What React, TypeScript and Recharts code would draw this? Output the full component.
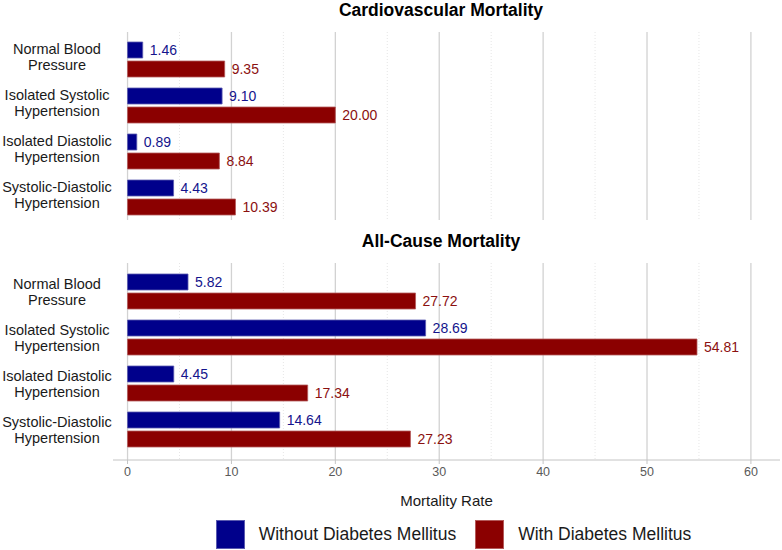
import {
  BarChart,
  Bar,
  XAxis,
  YAxis,
  CartesianGrid,
  LabelList,
  Legend,
} from 'recharts'

const CATEGORIES = [
  'Normal Blood\nPressure',
  'Isolated Systolic\nHypertension',
  'Isolated Diastolic\nHypertension',
  'Systolic-Diastolic\nHypertension',
]

const CV_WITHOUT = [1.46, 9.1, 0.89, 4.43]
const CV_WITH = [9.35, 20.0, 8.84, 10.39]

const ALL_WITHOUT = [5.82, 28.69, 4.45, 14.64]
const ALL_WITH = [27.72, 54.81, 17.34, 27.23]

const MAJOR_TICKS = [0, 10, 20, 30, 40, 50, 60]
const MINOR_TICKS = [5, 15, 25, 35, 45, 55]
const X_DOMAIN: [number, number] = [-1.4, 62.8]

const SERIES = [
  { key: 'without', name: 'Without Diabetes Mellitus', color: '#00008B', edge: '#5a5ab0', text: '#14148c' },
  { key: 'with', name: 'With Diabetes Mellitus', color: '#8B0000', edge: '#b45a5a', text: '#8b1010' },
]

const FONT = '"Liberation Sans", Arial, Helvetica, sans-serif'

function buildRows(without: number[], withDm: number[]) {
  return CATEGORIES.map((name, i) => ({ name, without: without[i], with: withDm[i] }))
}

const cvData = buildRows(CV_WITHOUT, CV_WITH)
const allData = buildRows(ALL_WITHOUT, ALL_WITH)

function CategoryTick(props: any) {
  const { x, y, payload, shift } = props
  const lines = String(payload.value).split('\n')
  const cx = x - 56
  return (
    <text x={cx} y={y + shift} textAnchor="middle" fontSize={14.5} fill="#1a1a1a">
      {lines.map((line, i) => (
        <tspan key={i} x={cx} dy={i === 0 ? 0 : 16.5}>
          {line}
        </tspan>
      ))}
    </text>
  )
}

// legend keeps the series order (vertical layout reverses the payload)
function LegendContent() {
  return (
    <div
      style={{
        display: 'flex',
        justifyContent: 'center',
        alignItems: 'center',
        height: 32,
        fontSize: 17.5,
        color: '#1a1a1a',
      }}
    >
      {SERIES.map((s, i) => (
        <div key={s.key} style={{ display: 'flex', alignItems: 'center', marginLeft: i ? 19 : 0 }}>
          <span
            style={{
              display: 'inline-block',
              width: 29,
              height: 29,
              boxSizing: 'border-box',
              background: s.color,
              border: `1px solid ${s.edge}`,
              marginRight: 14,
            }}
          />
          <span>{s.name}</span>
        </div>
      ))}
    </div>
  )
}

function Grids() {
  return [
    <CartesianGrid
      key="minor"
      horizontal={false}
      verticalValues={MINOR_TICKS}
      stroke="#e6e6e6"
      strokeDasharray="1 2"
    />,
    <CartesianGrid
      key="major"
      horizontal={false}
      verticalValues={MAJOR_TICKS}
      stroke="#d2d2d2"
      strokeWidth={1.3}
    />,
  ]
}

function SeriesBars() {
  return SERIES.map((s) => (
    <Bar
      key={s.key}
      dataKey={s.key}
      name={s.name}
      fill={s.color}
      stroke={s.edge}
      strokeWidth={0.8}
      isAnimationActive={false}
    >
      <LabelList
        dataKey={s.key}
        position="right"
        offset={7}
        fill={s.text}
        fontSize={14}
        formatter={(v: any) => Number(v).toFixed(2)}
      />
    </Bar>
  ))
}

const titleStyle: React.CSSProperties = {
  position: 'absolute',
  left: 113,
  width: 656,
  textAlign: 'center',
  fontWeight: 700,
  fontSize: 17.5,
  lineHeight: 'normal',
  color: '#000',
}

export default function App() {
  return (
    <div
      style={{
        position: 'absolute',
        left: 0,
        top: 0,
        width: 782,
        height: 550,
        background: '#fff',
        fontFamily: FONT,
      }}
    >
      <div style={{ position: 'absolute', left: 0, top: 0 }}>
        <BarChart
          width={782}
          height={222}
          data={cvData}
          layout="vertical"
          margin={{ top: 32, right: 2, bottom: 2, left: 0 }}
          barSize={16}
          barGap={3}
        >
          {Grids()}
          <XAxis type="number" hide domain={X_DOMAIN} ticks={MAJOR_TICKS} allowDataOverflow />
          <YAxis
            type="category"
            dataKey="name"
            width={113}
            axisLine={false}
            tickLine={false}
            tickSize={0}
            tickMargin={0}
            interval={0}
            padding={{ top: 4, bottom: 0 }}
            tick={(p: any) => <CategoryTick {...p} shift={-5.5} />}
          />
          {SeriesBars()}
        </BarChart>
      </div>
      <div style={{ ...titleStyle, top: 0 }}>Cardiovascular Mortality</div>

      <div style={{ position: 'absolute', left: 0, top: 230 }}>
        <BarChart
          width={782}
          height={320}
          data={allData}
          layout="vertical"
          margin={{ top: 33, right: 2, bottom: 0, left: 0 }}
          barSize={16}
          barGap={3}
        >
          {Grids()}
          <XAxis
            type="number"
            domain={X_DOMAIN}
            ticks={MAJOR_TICKS}
            allowDataOverflow
            height={58}
            axisLine={{ stroke: '#c4c4c4' }}
            tickLine={{ stroke: '#c4c4c4' }}
            tickSize={4}
            tickMargin={3}
            tick={{ fontSize: 12.5, fill: '#5a5a5a' }}
            label={{
              value: 'Mortality Rate',
              position: 'insideBottom',
              offset: 12,
              fontSize: 15,
              fill: '#1a1a1a',
            }}
          />
          <YAxis
            type="category"
            dataKey="name"
            width={113}
            axisLine={false}
            tickLine={false}
            tickSize={0}
            tickMargin={0}
            interval={0}
            padding={{ top: 5, bottom: 8 }}
            tick={(p: any) => <CategoryTick {...p} shift={-2.5} />}
          />
          {SeriesBars()}
          <Legend
            verticalAlign="bottom"
            height={32}
            wrapperStyle={{ left: 113, width: 681 }}
            content={<LegendContent />}
          />
        </BarChart>
      </div>
      <div style={{ ...titleStyle, top: 231 }}>All-Cause Mortality</div>
    </div>
  )
}
